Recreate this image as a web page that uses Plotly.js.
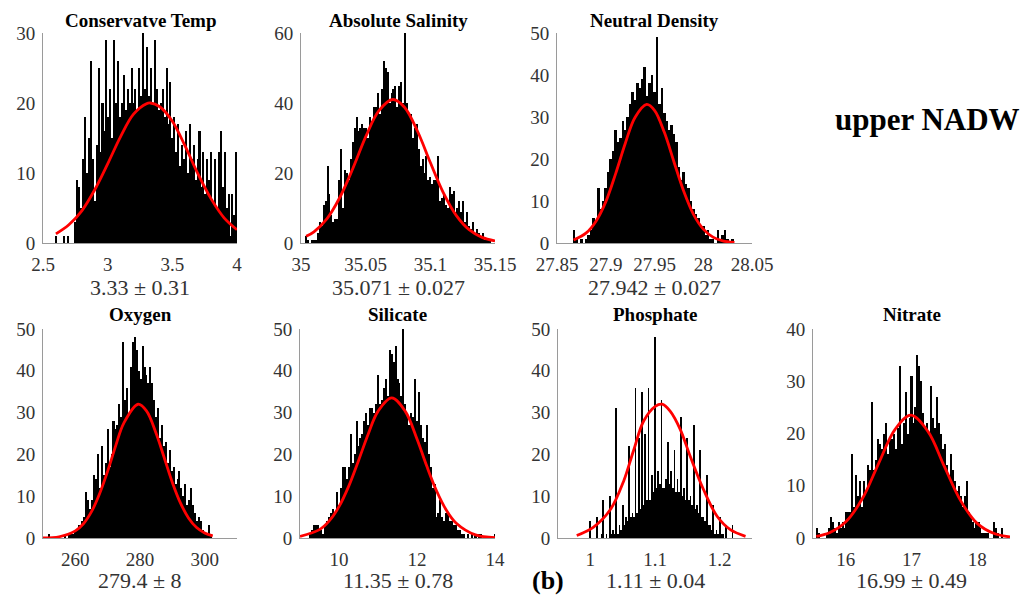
<!DOCTYPE html>
<html><head><meta charset="utf-8">
<script src="https://cdn.plot.ly/plotly-3.0.1.min.js"></script>
<style>html,body{margin:0;padding:0;background:#fff}#chart{width:1029px;height:597px}</style>
</head><body><div id="chart"></div>
<script>
// ---------------- DATA ----------------
const panelTitles = ['Conservatve Temp', 'Absolute Salinity', 'Neutral Density', 'Oxygen', 'Silicate', 'Phosphate', 'Nitrate'];
const statLabels = ['3.33 \u00b1 0.31', '35.071 \u00b1 0.027', '27.942 \u00b1 0.027', '279.4 \u00b1 8', '11.35 \u00b1 0.78', '1.11 \u00b1 0.04', '16.99 \u00b1 0.49'];
const waterMass = 'upper NADW';
const panelTag = '(b)';

// Conservative Temp
const tempBinStart = 2.60, tempBinWidth = 0.015;
const tempCounts = [1,0,0,0,1,0,1,0,0,0,
 3,9,8,5,12,18,10,15,26,12,
 6,14,25,13,20,16,29,18,22,15,
 29,20,26,18,20,24,19,22,20,25,
 20,22,19,25,21,30,22,28,21,25,
 20,29,22,19,20,22,18,25,17,23,
 15,18,13,17,11,14,12,16,10,17,
 12,14,9,12,16,8,13,7,12,9,
 13,6,12,5,13,16,8,13,5,7,
 1,7,4,13];
const tempFitX = [2.6,2.7,2.8,2.9,3.0,3.1,3.2,3.3,3.33,3.4,3.5,3.6,3.7,3.8,3.9,4.0];
const tempFitY = [1.3,2.6,4.6,7.6,11.3,15.2,18.4,19.9,20,19.5,17.4,13.8,9.8,6.3,3.6,1.9];
const tempTickVals = [2.5,3,3.5,4];
const tempTickText = ['2.5','3','3.5','4'];

// Absolute Salinity
const salBinStart = 35.004, salBinWidth = 0.0015;
const salCounts = [2,1,0,1,1,1,3,6,5,11,
 12,22,14,8,6,7,7,18,27,10,
 21,20,18,24,29,33,36,32,33,34,
 33,33,30,36,35,39,39,43,37,44,
 52,50,49,40,43,44,45,39,45,46,
 40,61,40,37,37,30,33,34,27,22,
 24,20,25,18,19,17,18,18,25,12,
 13,14,11,10,16,14,15,9,10,12,
 9,12,6,9,5,4,6,3,4,3,
 2,3,1,1,1,1];
const salFitX = [35.004,35.01,35.02,35.03,35.04,35.05,35.06,35.071,35.08,35.09,35.10,35.11,35.12,35.13,35.14,35.15];
const salFitY = [1.9,3.2,6.9,13.0,21.2,30.3,37.7,41,38.8,32.0,23.0,14.4,7.9,3.8,1.6,0.6];
const salTickVals = [35,35.05,35.1,35.15];
const salTickText = ['35','35.05','35.1','35.15'];

// Neutral Density
const denBinStart = 27.8675, denBinWidth = 0.0025;
const denCounts = [3,1,0,1,0,1,2,3,6,5,
 13,8,10,13,17,20,22,27,24,25,
 29,27,30,33,36,34,38,37,39,42,
 35,38,40,36,49,33,37,31,29,27,
 28,26,24,18,15,17,14,13,10,8,
 7,6,4,4,2,3,1,1,0,3,
 1,2,3,1,0,1];
const denFitX = [27.867,27.88,27.89,27.90,27.91,27.92,27.93,27.942,27.95,27.96,27.97,27.98,27.99,28.00,28.01,28.02,28.032];
const denFitY = [0.7,2.4,5.2,9.8,16.4,23.7,29.9,33,31.6,26.4,19.3,12.3,6.8,3.3,1.4,0.5,0.13];
const denTickVals = [27.85,27.9,27.95,28,28.05];
const denTickText = ['27.85','27.9','27.95','28','28.05'];

// Oxygen
const oxyBinStart = 252.0, oxyBinWidth = 0.6;
const oxyCounts = [1,0,0,0,0,0,0,0,1,0,
 1,1,1,2,2,3,3,4,5,11,
 9,7,9,15,14,20,12,22,15,18,
 26,17,20,28,26,27,32,29,47,33,
 36,30,41,47,48,45,40,38,46,41,
 39,37,41,37,33,29,31,24,27,22,
 23,18,21,16,17,13,14,16,12,10,
 13,8,9,12,8,6,4,5,4,2,
 1,1,3,1];
const oxyFitX = [250,255,260,262.5,265,267.5,270,272.5,275,279.4,282,285,287.5,290,292.5,295,297.5,300,302.5];
const oxyFitY = [0.04,0.3,1.7,3.4,6.3,10.6,16.0,22.1,27.5,32,30.4,25.0,19.2,13.3,8.4,4.8,2.5,1.2,0.5];
const oxyTickVals = [260,280,300];
const oxyTickText = ['260','280','300'];

// Silicate
const silBinStart = 9.15, silBinWidth = 0.05;
const silCounts = [0,0,1,2,3,3,3,2,2,1,
 3,4,5,6,7,6,11,8,12,17,
 17,14,17,25,18,20,28,22,24,25,
 28,30,27,31,31,30,32,39,32,33,
 36,38,34,45,44,42,46,38,37,34,
 50,32,30,27,30,29,38,28,35,27,
 24,23,27,20,17,12,13,5,6,9,
 5,4,6,6,4,4,3,3,2,2,
 1,1,0,1,0,1,0,1,0,1,
 1,0,0,0,0,0,0,1];
const silFitX = [9.0,9.5,9.75,10.0,10.25,10.5,10.75,11.0,11.35,11.7,12.0,12.25,12.5,12.75,13.0,13.5,14.0];
const silFitY = [0.4,2.0,4.1,7.5,12.4,18.5,24.9,30.3,33.5,30.3,23.7,17.2,11.3,6.7,3.6,0.75,0.1];
const silTickVals = [10,12,14];
const silTickText = ['10','12','14'];

// Phosphate
const phoBinStart = 0.985, phoBinWidth = 0.0025;
const phoCounts = [0,0,0,0, 0,0,4,0, 0,0,5,0, 0,1,9,0,
 1,0,10,1, 2,1,31,1, 3,2,8,3, 5,4,22,5,
 6,5,36,6, 24,7,35,8, 25,9,36,9, 15,11,48,12,
 16,13,33,12, 12,14,23,13, 16,12,21,11, 14,11,29,10,
 12,9,24,9, 10,8,27,7, 8,6,21,5, 5,4,15,3,
 3,2,8,1, 2,1,5,1, 1,0,3,0, 0,0,3,0];
const phoFitX = [0.979,1.005,1.031,1.0515,1.067,1.0825,1.1005,1.111,1.1237,1.139,1.1546,1.175,1.196,1.2165,1.24];
const phoFitY = [0.6,2.6,6.8,13.6,21,28,31.5,32,30.3,26,19.5,11.6,5.2,2,0.4];
const phoTickVals = [1,1.1,1.2];
const phoTickText = ['1','1.1','1.2'];

// Nitrate
const nitBinStart = 15.56, nitBinWidth = 0.03;
const nitCounts = [2,1,0,0,0,1,2,4,3,2,
 1,3,2,3,2,5,5,5,16,6,
 12,8,11,6,11,9,14,13,26,13,
 15,19,18,17,20,22,16,19,19,20,
 17,21,33,18,22,28,20,23,31,22,
 25,35,33,30,24,21,22,20,29,23,
 21,27,22,20,17,18,14,12,16,13,
 11,9,10,8,6,8,11,5,4,3,
 2,3,3,2,1,1,1,1,0,0,
 3,2,1,0,2];
const nitFitX = [15.55,15.75,16.0,16.25,16.5,16.75,16.99,17.25,17.5,17.75,18.0,18.25,18.5];
const nitFitY = [0.3,1.0,3.1,7.5,14.3,20.8,23.5,20.4,13.7,7.1,2.8,0.9,0.2];
const nitTickVals = [16,17,18];
const nitTickText = ['16','17','18'];

const countTicks30 = [0,10,20,30];
const countTicks60 = [0,20,40,60];
const countTicks50 = [0,10,20,30,40,50];
const countTicks40 = [0,10,20,30,40];

// ---------------- LAYOUT / STYLE ----------------
const W = 1029, H = 597;
const fx = v => v / W;
const fy = v => 1 - v / H;
const SERIF = 'Liberation Serif';
const TXT = '#333333';

const panels = [
  {counts: tempCounts, start: tempBinStart, bw: tempBinWidth, fx: tempFitX, fy: tempFitY, xr: [2.5, 4], yr: [0, 30], xtv: tempTickVals, xtt: tempTickText, ytv: countTicks30, box: [43, 237, 33, 243]},
  {counts: salCounts, start: salBinStart, bw: salBinWidth, fx: salFitX, fy: salFitY, xr: [35, 35.15], yr: [0, 60], xtv: salTickVals, xtt: salTickText, ytv: countTicks60, box: [301, 495, 33, 243]},
  {counts: denCounts, start: denBinStart, bw: denBinWidth, fx: denFitX, fy: denFitY, xr: [27.85, 28.05], yr: [0, 50], xtv: denTickVals, xtt: denTickText, ytv: countTicks50, box: [557, 752, 33, 243]},
  {counts: oxyCounts, start: oxyBinStart, bw: oxyBinWidth, fx: oxyFitX, fy: oxyFitY, xr: [250, 310], yr: [0, 50], xtv: oxyTickVals, xtt: oxyTickText, ytv: countTicks50, box: [43, 237, 329, 538]},
  {counts: silCounts, start: silBinStart, bw: silBinWidth, fx: silFitX, fy: silFitY, xr: [9, 14], yr: [0, 50], xtv: silTickVals, xtt: silTickText, ytv: countTicks50, box: [300, 495, 329, 538]},
  {counts: phoCounts, start: phoBinStart, bw: phoBinWidth, fx: phoFitX, fy: phoFitY, xr: [0.95, 1.25], yr: [0, 50], xtv: phoTickVals, xtt: phoTickText, ytv: countTicks50, box: [558, 752, 329, 538]},
  {counts: nitCounts, start: nitBinStart, bw: nitBinWidth, fx: nitFitX, fy: nitFitY, xr: [15.5, 18.5], yr: [0, 40], xtv: nitTickVals, xtt: nitTickText, ytv: countTicks40, box: [813, 1010, 329, 538]}
];

const traces = [];
const layout = {
  width: W, height: H,
  margin: {l: 0, r: 0, t: 0, b: 0},
  paper_bgcolor: '#fff', plot_bgcolor: 'rgba(0,0,0,0)',
  showlegend: false, bargap: 0,
  font: {family: SERIF, color: TXT, size: 18},
  annotations: []
};

panels.forEach((p, i) => {
  const n = i + 1;
  const xa = 'x' + (n === 1 ? '' : n), ya = 'y' + (n === 1 ? '' : n);
  const centers = p.counts.map((_, k) => p.start + k * p.bw);
  traces.push({
    type: 'bar', x: centers, y: p.counts, width: p.bw * 1.04, xaxis: xa, yaxis: ya,
    marker: {color: '#000', line: {width: 0}}, hoverinfo: 'skip'
  });
  traces.push({
    type: 'scatter', mode: 'lines', x: p.fx, y: p.fy, xaxis: xa, yaxis: ya,
    line: {color: '#ff0000', width: 2.8, shape: 'spline'}, hoverinfo: 'skip'
  });
  const [x0, x1, yt, yb] = p.box;
  layout['xaxis' + (n === 1 ? '' : n)] = {
    domain: [fx(x0), fx(x1)], anchor: ya, range: p.xr,
    tickmode: 'array', tickvals: p.xtv, ticktext: p.xtt,
    showline: true, linecolor: '#9a9a9a', linewidth: 1, mirror: false,
    showgrid: false, zeroline: false, ticks: '', ticklabelstandoff: 4,
    tickfont: {family: SERIF, size: 19, color: TXT}, fixedrange: true
  };
  layout['yaxis' + (n === 1 ? '' : n)] = {
    domain: [fy(yb), fy(yt)], anchor: xa, range: p.yr,
    tickmode: 'array', tickvals: p.ytv,
    showline: true, linecolor: '#9a9a9a', linewidth: 1,
    showgrid: false, zeroline: false, ticks: '', ticklabelstandoff: 3,
    tickfont: {family: SERIF, size: 19, color: TXT}, fixedrange: true
  };
  const cx = (x0 + x1) / 2;
  const titleY = i < 3 ? 20 : 314;
  const statY = i < 3 ? 287 : 580;
  layout.annotations.push({
    xref: 'paper', yref: 'paper', x: fx(cx), y: fy(titleY), xanchor: 'center', yanchor: 'middle',
    text: '<b>' + panelTitles[i] + '</b>', showarrow: false,
    font: {family: SERIF, size: 19, color: '#000'}
  });
  layout.annotations.push({
    xref: 'paper', yref: 'paper', x: fx(cx), y: fy(statY), xanchor: 'center', yanchor: 'middle',
    text: statLabels[i], showarrow: false,
    font: {family: SERIF, size: 22, color: TXT}
  });
});

layout.annotations.push({
  xref: 'paper', yref: 'paper', x: fx(927), y: fy(120), xanchor: 'center', yanchor: 'middle',
  text: '<b>' + waterMass + '</b>', showarrow: false,
  font: {family: SERIF, size: 31, color: '#000'}
});
layout.annotations.push({
  xref: 'paper', yref: 'paper', x: fx(548), y: fy(580), xanchor: 'center', yanchor: 'middle',
  text: '<b>' + panelTag + '</b>', showarrow: false,
  font: {family: SERIF, size: 26, color: '#000'}
});

Plotly.newPlot('chart', traces, layout, {staticPlot: true, displayModeBar: false});
</script>
</body></html>
